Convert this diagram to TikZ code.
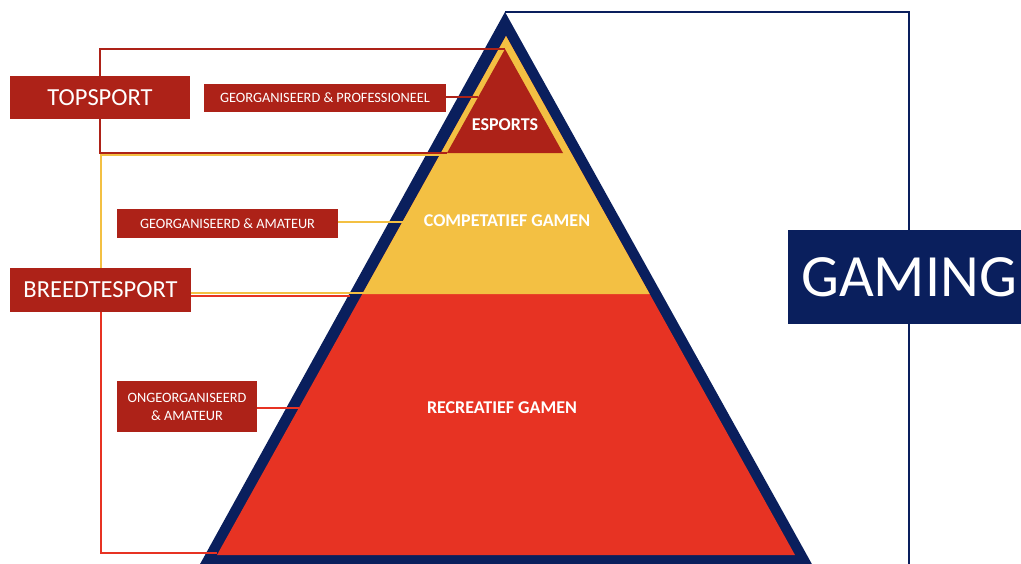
\documentclass[tikz,border=0pt]{standalone}
\usepackage{fontspec}
\setmainfont{Carlito}
\usetikzlibrary{calc}

\definecolor{navy}{HTML}{0A1F5D}
\definecolor{darkred}{HTML}{AD2218}
\definecolor{brightred}{HTML}{E73323}
\definecolor{gold}{HTML}{F3C043}

\begin{document}
\begin{tikzpicture} [
                x=1pt,
                y=-1pt,
                level/.style = {fill=darkred, text=white, inner sep=0pt, align=center,
                                font=\fontsize{14.3}{18}\selectfont},
                big level/.style = {level, font=\fontsize{24.5}{28}\selectfont},
                layer/.style = {text=white, font=\bfseries\fontsize{18}{20}\selectfont},
                top link/.style = {draw, line width=2pt, darkred},
                wide link/.style = {draw, line width=2pt, gold},
                low link/.style = {draw, line width=2pt, brightred},
                game link/.style = {draw, line width=2.2pt, navy}
            ]
            \useasboundingbox (0,0) rectangle (1021,563);
            % First we draw the pyramid and its layers
            \coordinate (outer top) at (505,12);
            \coordinate (inner top) at (506,36);
            \coordinate (inner left) at (217,555);
            \coordinate (inner right) at (795,555);
            \fill[navy] (outer top) -- (194,575) -- (818,575) -- cycle;
            \fill[brightred] (inner top) -- (inner left) -- (inner right) -- cycle;
            \fill[gold] (inner top) -- (362.3,294) -- (649.7,294) -- cycle;
            \coordinate (es top) at (505,49);
            \coordinate (es left) at (447,153);
            \fill[darkred] (es top) -- (es left) -- (563,153) -- cycle;
            \node[layer] (esports) at (505,125) {ESPORTS};
            \node[layer] (competatief) at (507,221) {COMPETATIEF GAMEN};
            \node[layer] (recreatief) at (502,408) {RECREATIEF GAMEN};
            % the boxes on the left
            \node[big level, minimum width=180, minimum height=43] (topsport) at (100,97.5) {TOPSPORT};
            \node[big level, minimum width=181, minimum height=44] (breedte) at (100.5,290) {BREEDTESPORT};
            \foreach \name/\pos/\w/\h/\txt in {
                prof/{(325,98)}/242/28/{GEORGANISEERD \& PROFESSIONEEL},
                amateur/{(227.5,223.5)}/221/29/{GEORGANISEERD \& AMATEUR},
                ongeorg/{(187,406.5)}/140/51/{ONGEORGANISEERD\\\& AMATEUR}}
                \node[level, minimum width=\w, minimum height=\h] (\name) at \pos {\txt};
            % where the links meet the pyramid
            \coordinate (prof end) at (478,97);
            \coordinate (amateur end) at (403,222);
            \coordinate (ongeorg end) at (299,408);
            \coordinate (wide top) at (441,155);
            \coordinate (wide end) at (365,292.5);
            \coordinate (low end) at (350,295.5);
            \coordinate (low base) at (217,553);
            % brackets and links
            \draw[top link] (es top) -| (topsport.north);
            \draw[top link] (topsport.south) |- (es left);
            \draw[wide link] (wide top) -| (breedte.north);
            \draw[wide link] (breedte.east |- wide end) -- (wide end);
            \draw[low link] (breedte.east |- low end) -- (low end);
            \draw[low link] (breedte.south) |- (low base);
            \draw[top link] (prof.east |- prof end) -- (prof end);
            \draw[wide link] (amateur.east |- amateur end) -- (amateur end);
            \draw[low link] (ongeorg.east |- ongeorg end) -- (ongeorg end);
            % gaming on the right
            \node[fill=navy, text=white, inner sep=0pt, minimum width=242, minimum height=94,
                  font=\fontsize{60}{60}\selectfont] (gaming) at (909,277) {GAMING};
            \draw[game link] (outer top) -| (gaming.north);
            \draw[game link] (gaming.south) -- (gaming.south |- 0,570);
        \end{tikzpicture}
\end{document}
